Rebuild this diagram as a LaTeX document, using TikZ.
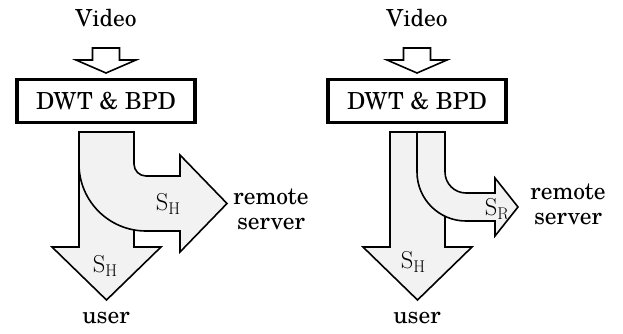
\documentclass[tikz,border=0pt]{standalone}
\usepackage{fontspec}
\setmainfont{TeX Gyre Schola}
\newfontfamily\lmrfont{Latin Modern Roman}
\newcommand{\subsym}[2]{{\lmrfont #1\raisebox{-4.5pt}{\fontsize{17}{18}\selectfont #2}}}
\definecolor{arrowfill}{RGB}{242,242,242}
\begin{document}
\begin{tikzpicture}[x=1pt,y=-1pt,
  lbl/.style={font=\fontsize{23.5}{25}\selectfont, inner sep=0pt, align=center},
  blk/.style={draw, line width=3.5pt, minimum width=178pt, minimum height=43pt,
    inner sep=0pt, font=\fontsize{23.5}{25}\selectfont},
  shp/.style={draw, line width=1.6pt, fill=arrowfill, line join=miter, miter limit=10},
  inshp/.style={shp, fill=white},
  sym/.style={inner sep=0pt, font=\fontsize{24.5}{26}\selectfont}]
\useasboundingbox (0,0) rectangle (623,334);

% ---------------- left diagram ----------------
\node[lbl] (vidL) at (106,18) {Video};
\draw[inshp] (92.5,48) -- (119.5,48) -- (119.5,60) -- (136,60) -- (106,73) -- (76,60) -- (92.5,60) -- cycle;
\node[blk] (dwtL) at (106,101) {DWT \& BPD};
\draw[shp] (79,132) -- (134,132) -- (134,247) -- (161,247) -- (106.5,300) -- (52,247) -- (79,247) -- cycle;
\draw[shp] (79,132) -- (134,132) -- (134,164)
  .. controls (134,170.63) and (139.37,176) .. (146,176)
  -- (180,176) -- (180,155) -- (227,203.5) -- (180,252) -- (180,231) -- (146,231)
  .. controls (109,231) and (79,201) .. (79,164) -- cycle;
\node[sym] (shL1) at (168,204) {\subsym{S}{H}};
\node[sym] (shL2) at (105,266) {\subsym{S}{H}};
\node[lbl] (remL) at (271,209) {remote\\server};
\node[lbl] (userL) at (106,318) {user};

% ---------------- right diagram ----------------
\node[lbl] (vidR) at (417,18) {Video};
\draw[inshp] (403.5,48) -- (430.5,48) -- (430.5,60) -- (447,60) -- (417,73) -- (387,60) -- (403.5,60) -- cycle;
\node[blk] (dwtR) at (417,101) {DWT \& BPD};
\draw[shp] (390,132) -- (445,132) -- (445,247) -- (472,247) -- (417.5,300) -- (363,247) -- (390,247) -- cycle;
\draw[shp] (417,132) -- (445,132) -- (445,172)
  .. controls (445,183.6) and (454.4,193) .. (466,193)
  -- (495,193) -- (495,178) -- (518,207) -- (495,236) -- (495,221) -- (466,221)
  .. controls (438.94,221) and (417,199.06) .. (417,172) -- cycle;
\node[sym] (srR) at (497,209) {\subsym{S}{R}};
\node[sym] (shR) at (413,262) {\subsym{S}{H}};
\node[lbl] (remR) at (568,204.5) {remote\\server};
\node[lbl] (userR) at (417,318) {user};
\end{tikzpicture}
\end{document}
